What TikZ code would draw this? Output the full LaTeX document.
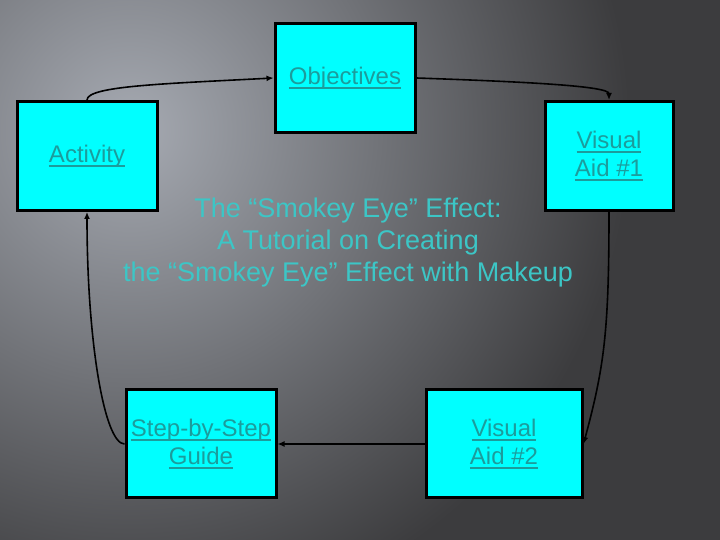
\documentclass[tikz,border=0pt]{standalone}
\usepackage{fontspec}
\setmainfont{Liberation Sans}
\usetikzlibrary{arrows.meta}
\definecolor{bglight}{HTML}{A6AAB2}
\definecolor{bgdark}{HTML}{3C3C3E}
\definecolor{boxfill}{HTML}{00FFFF}
\definecolor{labeltext}{HTML}{1C9C9C}
\definecolor{titletext}{HTML}{3CC6C6}
\newcommand\linkul[1]{\setbox0\hbox{#1}\rlap{\rule[-4.5pt]{\wd0}{1.8pt}}\box0}

\begin{document}
\begin{tikzpicture}[x=1pt,y=1pt,
  stage/.style={draw=black,line width=3pt,fill=boxfill,inner sep=0pt,text=labeltext,
    align=center,font=\fontsize{24}{28}\selectfont},
  flow/.style={line width=1.6pt,-{Latex[length=7pt,width=6pt]}}]
\useasboundingbox (0,0) rectangle (720,540);
\clip (0,0) rectangle (720,540);
\fill[bgdark] (0,0) rectangle (720,540);
\shade[inner color=bglight,outer color=bgdark] (130,410) circle (500);

\node[stage,minimum width=140pt,minimum height=109pt] (obj) at (345,462) {\linkul{Objectives}};
\node[stage,minimum width=140pt,minimum height=109pt] (act) at (87,384) {\linkul{Activity}};
\node[stage,minimum width=128pt,minimum height=109pt] (va1) at (609,384) {\linkul{Visual}\\\linkul{Aid \#1}};
\node[stage,minimum width=150pt,minimum height=108pt] (step) at (201,96) {\linkul{Step-by-Step}\\\linkul{Guide}};
\node[stage,minimum width=156pt,minimum height=108pt] (va2) at (504,96) {\linkul{Visual}\\\linkul{Aid \#2}};

\node[text=titletext,align=center,font=\fontsize{27}{32}\selectfont] (title) at (348,297)
  {The “Smokey Eye” Effect:\\A Tutorial on Creating\\the “Smokey Eye” Effect with Makeup};

\draw[flow] (act.north) to[out=90,in=183,out distance=14pt,in distance=110pt] (obj.west);
\draw[flow] (obj.east) to[out=-2,in=90,out distance=110pt,in distance=14pt] (va1.north);
\draw[flow] (va1.south) to[out=-90,in=75,out distance=120pt,in distance=80pt] (va2.east);
\draw[flow] (va2.west) -- (step.east);
\draw[flow] (step.west) to[out=180,in=-90,out distance=20pt,in distance=130pt] (act.south);
\end{tikzpicture}
\end{document}
